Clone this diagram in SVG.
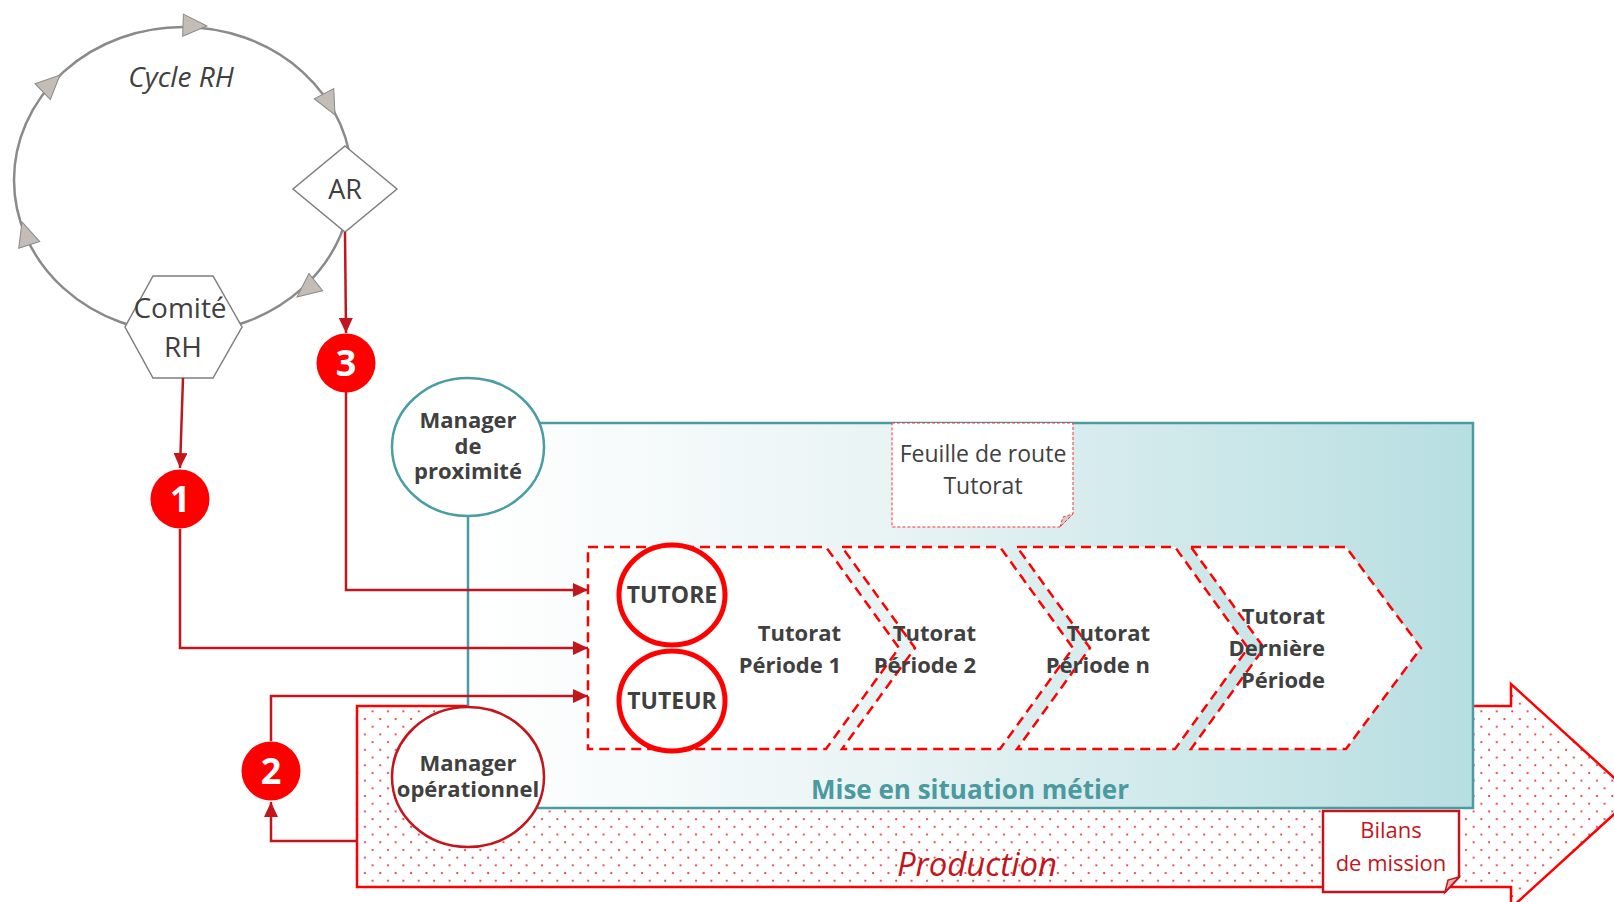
<svg xmlns="http://www.w3.org/2000/svg" width="1614" height="902" viewBox="0 0 1614 902">
  <style>
    text { font-family: "Open Sans", "Liberation Sans", sans-serif; }
    .dark { fill: #404040; }
    .lbl { font-weight: bold; font-size: 22px; fill: #404040; }
    .cyc { fill: none; stroke: #8a8a8a; stroke-width: 2.5; }
    .cyc-tip { fill: #c4bcb6; stroke: #8a8a8a; stroke-width: 1; }
    .grey-node { fill: #ffffff; stroke: #7f7f7f; stroke-width: 1.5; }
    .link { fill: none; stroke: #c3161c; stroke-width: 2.5; marker-end: url(#tip); }
    .badge { fill: #ff0000; }
    .badge-num { font-weight: bold; font-size: 36px; fill: #ffffff; text-anchor: middle; }
    .step { fill: #ffffff; stroke: #ff0000; stroke-width: 2.5; stroke-dasharray: 10 6; }
    .role { fill: #ffffff; stroke: #ff0000; stroke-width: 5; }
    .role-txt { font-weight: bold; font-size: 23px; fill: #404040; text-anchor: middle; }
    .mgr-txt { font-weight: bold; font-size: 22px; fill: #404040; text-anchor: middle; }
  </style>
  <defs>
    <linearGradient id="tealFade" x1="0" y1="0" x2="1" y2="0">
      <stop offset="0" stop-color="#ffffff"/>
      <stop offset="0.4" stop-color="#eaf4f5"/>
      <stop offset="1" stop-color="#b7dee1"/>
    </linearGradient>
    <pattern id="dots" width="15.4" height="15.4" patternUnits="userSpaceOnUse">
      <rect width="15.4" height="15.4" fill="#ffffff"/>
      <circle cx="3" cy="3" r="1.1" fill="#e8323a"/>
      <circle cx="10.7" cy="10.7" r="1.1" fill="#e8323a"/>
    </pattern>
    <marker id="tip" markerUnits="userSpaceOnUse" markerWidth="16" markerHeight="14" refX="15" refY="7" orient="auto">
      <path d="M0,0 L15,7 L0,14 Z" fill="#c3161c"/>
    </marker>
    <path id="cycTip" d="M-24,-11 L0,0 L-24,11 Z"/>
  </defs>

  <!-- Production block arrow -->
  <g id="production">
    <path d="M357,706 H1511 V684 L1634,796 L1511,908 V887 H357 Z" fill="url(#dots)" stroke="#ff0000" stroke-width="2.5"/>
    <text x="977" y="876" font-size="33" font-style="italic" fill="#c3161c" text-anchor="middle">Production</text>
  </g>

  <!-- Work placement frame -->
  <g id="mise-en-situation">
    <rect x="468" y="423" width="1005" height="385" fill="url(#tealFade)" stroke="#4b9ca2" stroke-width="2.5"/>
    <text x="970" y="799" font-size="26" font-weight="bold" fill="#4a9aa0" text-anchor="middle">Mise en situation métier</text>
  </g>

  <g id="feuille-de-route">
    <path d="M892,423 H1073 V514 L1060,527 H892 Z" fill="#ffffff" stroke="#ff3030" stroke-width="1" stroke-dasharray="3 2"/>
    <path d="M1060,527 L1063,517 L1073,514 Z" fill="#cfcfcf" stroke="#ff3030" stroke-width="1" stroke-dasharray="3 2"/>
    <text class="dark" font-size="23" text-anchor="middle"><tspan x="983" y="462">Feuille de route</tspan><tspan x="983" y="494">Tutorat</tspan></text>
  </g>

  <!-- Tutoring periods -->
  <g id="periode-1">
    <path class="step" d="M588,547 H826 L899,648 L826,749 H588 Z"/>
    <text class="lbl" text-anchor="end"><tspan x="841" y="641">Tutorat</tspan><tspan x="841" y="673">Période 1</tspan></text>
  </g>
  <g id="periode-2">
    <path class="step" d="M842,547 H1000 L1073,648 L1000,749 H842 L915,648 Z"/>
    <text class="lbl" text-anchor="end"><tspan x="976" y="641">Tutorat</tspan><tspan x="976" y="673">Période 2</tspan></text>
  </g>
  <g id="periode-n">
    <path class="step" d="M1017,547 H1175 L1248,648 L1175,749 H1017 L1090,648 Z"/>
    <text class="lbl" text-anchor="end"><tspan x="1150" y="641">Tutorat</tspan><tspan x="1150" y="673">Période n</tspan></text>
  </g>
  <g id="periode-derniere">
    <path class="step" d="M1191,547 H1346 L1421,648 L1346,749 H1191 L1264,648 Z"/>
    <text class="lbl" text-anchor="end"><tspan x="1325" y="624">Tutorat</tspan><tspan x="1325" y="656">Dernière</tspan><tspan x="1325" y="688">Période</tspan></text>
  </g>

  <g id="tutore">
    <ellipse class="role" cx="672" cy="595" rx="53" ry="50"/>
    <text class="role-txt" x="672" y="603">TUTORE</text>
  </g>
  <g id="tuteur">
    <ellipse class="role" cx="672" cy="701" rx="53" ry="50"/>
    <text class="role-txt" x="672" y="709">TUTEUR</text>
  </g>

  <g id="manager-proximite">
    <ellipse cx="468" cy="447" rx="76" ry="69" fill="#ffffff" stroke="#4a9da3" stroke-width="2.5"/>
    <text class="mgr-txt"><tspan x="468" y="428">Manager</tspan><tspan x="468" y="454">de</tspan><tspan x="468" y="479">proximité</tspan></text>
  </g>
  <g id="manager-operationnel">
    <ellipse cx="468" cy="777" rx="76" ry="70" fill="#ffffff" stroke="#c3161c" stroke-width="2.5"/>
    <text class="mgr-txt"><tspan x="468" y="771">Manager</tspan><tspan x="468" y="797">opérationnel</tspan></text>
  </g>

  <g id="bilans-de-mission">
    <path d="M1323,811 H1459 V877 L1445,892 H1323 Z" fill="#ffffff" stroke="#c3161c" stroke-width="2.5"/>
    <path d="M1445,892 L1448,880 L1459,877 Z" fill="#e8b0b2" stroke="#c3161c" stroke-width="1.5"/>
    <text font-size="22" fill="#c3161c" text-anchor="middle"><tspan x="1391" y="838">Bilans</tspan><tspan x="1391" y="871">de mission</tspan></text>
  </g>

  <!-- HR cycle -->
  <g id="cycle-rh">
    <ellipse class="cyc" cx="183" cy="180" rx="169" ry="153"/>
    <use href="#cycTip" class="cyc-tip" transform="translate(207,26) rotate(2)"/>
    <use href="#cycTip" class="cyc-tip" transform="translate(335,115) rotate(62.7)"/>
    <use href="#cycTip" class="cyc-tip" transform="translate(297,297) rotate(141.5)"/>
    <use href="#cycTip" class="cyc-tip" transform="translate(22,222) rotate(-107.5)"/>
    <use href="#cycTip" class="cyc-tip" transform="translate(60,75) rotate(-43.8)"/>
    <text class="dark" x="181" y="87" font-size="28" font-style="italic" text-anchor="middle">Cycle RH</text>
  </g>
  <g id="ar">
    <polygon class="grey-node" points="345,146 397,189 345,232 293,189"/>
    <text class="dark" x="345" y="199" font-size="27" text-anchor="middle">AR</text>
  </g>
  <g id="comite-rh">
    <polygon class="grey-node" points="153,276 213,276 242,327 213,378 153,378 125,327"/>
    <text class="dark" font-size="28" text-anchor="middle"><tspan x="180" y="318">Comité</tspan><tspan x="183" y="357">RH</tspan></text>
  </g>

  <!-- Connectors -->
  <g id="connectors">
    <path class="link" d="M345,232 L346,333"/>
    <path class="link" d="M183,378 L180,468"/>
    <path class="link" d="M346,392 V590 H588"/>
    <path class="link" d="M180,529 V648 H588"/>
    <path class="link" d="M357,841 H271 V802"/>
    <path class="link" d="M271,741 V696 H588"/>
  </g>

  <!-- Numbered steps -->
  <g id="badge-1">
    <circle class="badge" cx="180" cy="499" r="29.5"/>
    <text class="badge-num" x="180" y="512">1</text>
  </g>
  <g id="badge-2">
    <circle class="badge" cx="271" cy="771" r="29.5"/>
    <text class="badge-num" x="271" y="784">2</text>
  </g>
  <g id="badge-3">
    <circle class="badge" cx="346" cy="363" r="29.5"/>
    <text class="badge-num" x="346" y="376">3</text>
  </g>
</svg>
